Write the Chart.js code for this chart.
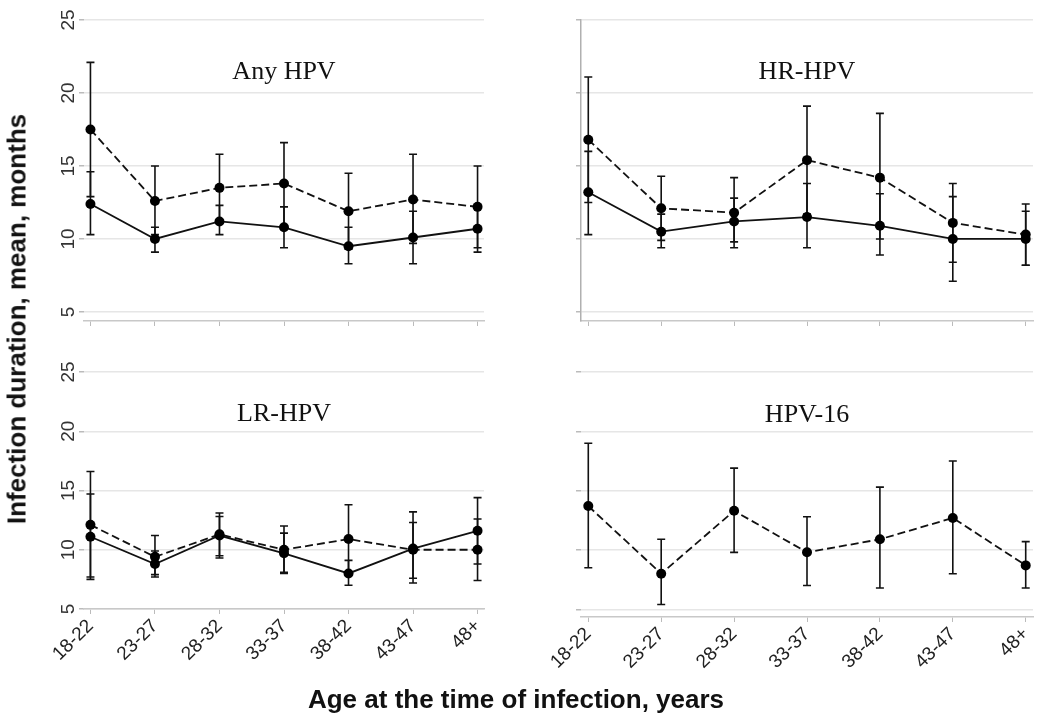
<!DOCTYPE html>
<html>
<head>
<meta charset="utf-8">
<script src="https://cdn.jsdelivr.net/npm/chart.js@4.4.1/dist/chart.umd.min.js"></script>
<style>
  body { margin: 0; background: #fff; width: 1050px; height: 722px; position: relative; overflow: hidden; font-family: "Liberation Sans", Arial, sans-serif; }
  canvas { position: absolute; }
  .ytitle { position: absolute; left: 17px; top: 319px; transform: translate(-50%, -50%) rotate(-90deg); white-space: nowrap; font-weight: bold; font-size: 26px; color: #111; z-index: 2; }
  .xtitle { position: absolute; left: 516px; top: 699px; transform: translate(-50%, -50%); white-space: nowrap; font-weight: bold; font-size: 26px; color: #111; z-index: 2; }
</style>
</head>
<body>
<div class="ytitle">Infection duration, mean, months</div>
<div class="xtitle">Age at the time of infection, years</div>
<canvas id="anyHpv" width="500" height="345" style="left:0;top:0"></canvas>
<canvas id="hrHpv" width="550" height="345" style="left:500px;top:0"></canvas>
<canvas id="lrHpv" width="500" height="377" style="left:0;top:345px"></canvas>
<canvas id="hpv16" width="550" height="377" style="left:500px;top:345px"></canvas>
<script>
const ageGroups = ["18-22", "23-27", "28-32", "33-37", "38-42", "43-47", "48+"];
const yTicks = [5, 10, 15, 20, 25];

// Any HPV
const anyDashMean = [17.5, 12.6, 13.5, 13.8, 11.9, 12.7, 12.2];
const anyDashLow = [12.9, 10.3, 11.2, 10.9, 9.3, 9.7, 9.4];
const anyDashHigh = [22.1, 15.0, 15.8, 16.6, 14.5, 15.8, 15.0];
const anySolidMean = [12.4, 10.0, 11.2, 10.8, 9.5, 10.1, 10.7];
const anySolidLow = [10.3, 9.1, 10.3, 9.4, 8.3, 8.3, 9.1];
const anySolidHigh = [14.6, 10.8, 12.3, 12.2, 10.8, 11.9, 12.2];

// HR-HPV
const hrDashMean = [16.8, 12.1, 11.8, 15.4, 14.2, 11.1, 10.3];
const hrDashLow = [12.5, 9.9, 9.4, 11.7, 10.0, 8.4, 8.2];
const hrDashHigh = [21.1, 14.3, 14.2, 19.1, 18.6, 13.8, 12.4];
const hrSolidMean = [13.2, 10.5, 11.2, 11.5, 10.9, 10.0, 10.0];
const hrSolidLow = [10.3, 9.4, 9.8, 9.4, 8.9, 7.1, 8.2];
const hrSolidHigh = [16.0, 11.7, 12.8, 13.8, 13.1, 12.9, 11.9];

// LR-HPV
const lrDashMean = [12.1, 9.4, 11.3, 10.0, 10.9, 10.0, 10.0];
const lrDashLow = [7.5, 7.9, 9.5, 8.0, 7.9, 7.2, 7.4];
const lrDashHigh = [16.6, 11.2, 13.1, 12.0, 13.8, 13.2, 12.6];
const lrSolidMean = [11.1, 8.8, 11.2, 9.7, 8.0, 10.1, 11.6];
const lrSolidLow = [7.7, 7.7, 9.3, 8.1, 7.0, 7.6, 8.8];
const lrSolidHigh = [14.7, 9.9, 12.8, 11.4, 9.1, 12.3, 14.4];

// HPV-16
const h16Mean = [13.7, 8.0, 13.3, 9.8, 10.9, 12.7, 8.7];
const h16Low = [8.5, 5.4, 9.8, 7.0, 6.8, 8.0, 6.8];
const h16High = [19.0, 10.9, 16.9, 12.8, 15.3, 17.5, 10.7];

const FONT = '"Liberation Sans", Arial, sans-serif';

// vertical error bars with caps, drawn under the lines
const errorBars = {
  id: "errorBars",
  beforeDatasetsDraw(chart) {
    const ctx = chart.ctx;
    const y = chart.scales.y;
    chart.data.datasets.forEach((ds, di) => {
      chart.getDatasetMeta(di).data.forEach((pt, i) => {
        const top = y.getPixelForValue(ds.high[i]);
        const bot = y.getPixelForValue(ds.low[i]);
        ctx.save();
        ctx.strokeStyle = "#111";
        ctx.lineWidth = 1.6;
        ctx.beginPath();
        ctx.moveTo(pt.x, top); ctx.lineTo(pt.x, bot);
        ctx.moveTo(pt.x - 4, top); ctx.lineTo(pt.x + 4, top);
        ctx.moveTo(pt.x - 4, bot); ctx.lineTo(pt.x + 4, bot);
        ctx.stroke();
        ctx.restore();
      });
    });
  }
};

// panel title inside the plot + rotated y tick labels
const panelText = {
  id: "panelText",
  afterDraw(chart, args, opts) {
    const ctx = chart.ctx;
    const area = chart.chartArea;
    const y = chart.scales.y;
    ctx.save();
    ctx.fillStyle = "#111";
    ctx.font = '26px "Liberation Serif", "Times New Roman", serif';
    ctx.textAlign = "center";
    ctx.textBaseline = "middle";
    ctx.fillText(opts.title, (area.left + area.right) / 2, y.getPixelForValue(21.4));
    if (opts.showY) {
      ctx.font = "19px " + FONT;
      ctx.fillStyle = "#333";
      yTicks.forEach(v => {
        ctx.save();
        ctx.translate(area.left - 15, y.getPixelForValue(v));
        ctx.rotate(-Math.PI / 2);
        ctx.fillText(String(v), 0, 0);
        ctx.restore();
      });
    }
    ctx.restore();
  }
};

function series(mean, low, high, dashed) {
  return {
    data: mean.map((v, i) => ({ x: i, y: v })),
    low: low,
    high: high,
    borderColor: "#111",
    backgroundColor: "#111",
    borderWidth: 1.8,
    borderDash: dashed ? [8, 4] : [],
    pointRadius: 5,
    pointBackgroundColor: "#000",
    pointBorderWidth: 0,
    tension: 0
  };
}

function makePanel(id, datasets, cfg) {
  const ctx = document.getElementById(id).getContext("2d");
  return new Chart(ctx, {
    type: "line",
    data: { datasets: datasets },
    options: {
      responsive: false,
      animation: false,
      devicePixelRatio: 1,
      layout: { padding: { top: cfg.padTop, right: cfg.padRight, left: 0, bottom: 0 } },
      plugins: { legend: { display: false }, tooltip: { enabled: false }, panelText: { title: cfg.title, showY: cfg.showY } },
      scales: {
        x: {
          type: "linear",
          min: -0.1,
          max: 6.1,
          afterBuildTicks: s => { s.ticks = ageGroups.map((_, i) => ({ value: i })); },
          afterFit: s => { s.height = cfg.xH; },
          grid: { drawOnChartArea: false, tickLength: 5, color: "#bbb" },
          border: { display: true, color: "#c8c8c8", width: 1.5 },
          ticks: {
            display: cfg.showX,
            autoSkip: false,
            minRotation: 45,
            maxRotation: 45,
            padding: 1,
            color: "#222",
            font: { size: 19, family: FONT },
            callback: v => ageGroups[v]
          }
        },
        y: {
          min: cfg.yMin,
          max: 25,
          afterBuildTicks: s => { s.ticks = yTicks.map(v => ({ value: v })); },
          afterFit: s => { s.width = cfg.yW; },
          grid: { color: "#e6e6e6", lineWidth: 1.5, tickLength: 5, tickColor: "#bbb" },
          border: { display: cfg.yBorder, color: "#b0b0b0", width: 1.5 },
          ticks: { display: false }
        }
      }
    },
    plugins: [errorBars, panelText]
  });
}

makePanel("anyHpv", [
  series(anyDashMean, anyDashLow, anyDashHigh, true),
  series(anySolidMean, anySolidLow, anySolidHigh, false)
], { title: "Any HPV", showY: true, showX: false, yBorder: false, yMin: 4.38, yW: 84, xH: 24, padTop: 20, padRight: 16 });

makePanel("hrHpv", [
  series(hrDashMean, hrDashLow, hrDashHigh, true),
  series(hrSolidMean, hrSolidLow, hrSolidHigh, false)
], { title: "HR-HPV", showY: false, showX: false, yBorder: true, yMin: 4.38, yW: 81, xH: 24, padTop: 20, padRight: 17 });

makePanel("lrHpv", [
  series(lrDashMean, lrDashLow, lrDashHigh, true),
  series(lrSolidMean, lrSolidLow, lrSolidHigh, false)
], { title: "LR-HPV", showY: true, showX: true, yBorder: false, yMin: 5, yW: 84, xH: 113, padTop: 27, padRight: 16 });

makePanel("hpv16", [
  series(h16Mean, h16Low, h16High, true)
], { title: "HPV-16", showY: false, showX: true, yBorder: false, yMin: 4.35, yW: 81, xH: 105, padTop: 27, padRight: 17 });
</script>
</body>
</html>
